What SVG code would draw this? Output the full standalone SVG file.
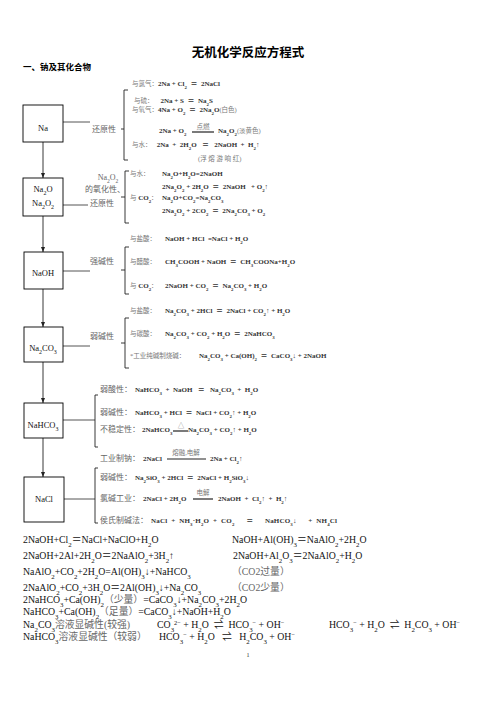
<svg xmlns="http://www.w3.org/2000/svg" width="496" height="702" viewBox="0 0 496 702">
<style>
text{font-family:"Liberation Serif","Noto Sans CJK SC","DejaVu Serif",serif;white-space:pre}
.title{font-family:"Noto Sans CJK SC",sans-serif;font-weight:bold;font-size:12.5px;fill:#000}
.h{font-family:"Noto Sans CJK SC",sans-serif;font-weight:bold;font-size:8.5px;fill:#000}
.bx{font-size:8.5px;fill:#111}
.lab{font-size:8px;fill:#666}
.eq{font-size:7px;font-weight:bold;fill:#333}
.g{font-weight:normal;fill:#777;font-size:6.5px}
.gl{font-weight:normal;fill:#666;font-size:8px}
.bt{font-size:9.8px;fill:#111}
.gb{fill:#666}
.d{font-size:70%;baseline-shift:sub}
.u{font-size:65%;baseline-shift:super}
.box{fill:#fff;stroke:#000;stroke-width:0.9}
.ln{stroke:#222;stroke-width:1.2;fill:none}
.cl{stroke:#555;stroke-width:1}
.br{stroke:#222;stroke-width:0.9;fill:none}
.ar{stroke:#222;stroke-width:0.9;marker-end:url(#ah)}
</style>
<defs>
<marker id="ah" markerWidth="6" markerHeight="6" refX="5" refY="3" orient="auto" markerUnits="userSpaceOnUse"><path d="M0,1 L5,3 L0,5Z" fill="#222"/></marker>
</defs>
<rect width="496" height="702" fill="#fff"/>
<text class="title" x="248" y="57" text-anchor="middle">无机化学反应方程式</text>
<text class="h" x="23" y="70">一、钠及其化合物</text>

<g id="connectors">
<line class="ar" x1="43" y1="142" x2="43" y2="178"/>
<line class="ar" x1="43" y1="216" x2="43" y2="252"/>
<line class="ar" x1="43" y1="289" x2="43" y2="327"/>
<line class="ar" x1="43" y1="362" x2="43" y2="403"/>
<line class="ar" x1="43" y1="438" x2="43" y2="477"/>
<line class="cl" x1="63" y1="122" x2="90" y2="122"/>
<line class="cl" x1="63" y1="205" x2="88" y2="205"/>
<line class="cl" x1="63" y1="271" x2="90" y2="271"/>
<line class="cl" x1="63" y1="346" x2="90" y2="346"/>
<line class="cl" x1="63" y1="420" x2="95" y2="420"/>
<line class="cl" x1="64" y1="499" x2="95" y2="499"/>
</g>

<g id="na">
<rect class="box" x="23" y="105" width="40" height="37"/>
<text class="bx" x="43" y="131" text-anchor="middle">Na</text>
</g>
<g id="na-rx">
<text class="lab" x="92" y="132">还原性</text>
<path class="br" d="M128,90 H124 V160 H128 M124,129 H121"/>
<text class="eq" x="132" y="86"><tspan class="g">与氯气：</tspan>2Na + Cl<tspan class="d">2</tspan>  ＝  2NaCl</text>
<text class="eq" x="134" y="102.5"><tspan class="g">与硫：</tspan>    2Na + S  ＝  Na<tspan class="d">2</tspan>S</text>
<text class="eq" x="132" y="112"><tspan class="g">与氧气：</tspan>4Na + O<tspan class="d">2</tspan>  ＝  2Na<tspan class="d">2</tspan>O<tspan class="g">(白色)</tspan></text>
<text class="eq" x="159" y="133">2Na + O<tspan class="d">2</tspan></text>
<line class="ln" x1="192" y1="132" x2="214" y2="132"/>
<text class="g" x="203" y="129" text-anchor="middle">点燃</text>
<text class="eq" x="218" y="133">Na<tspan class="d">2</tspan>O<tspan class="d">2</tspan><tspan class="g">(淡黄色)</tspan></text>
<text class="eq" x="132" y="147"><tspan class="g">与水：</tspan>   2Na  +  2H<tspan class="d">2</tspan>O   ＝   2NaOH  +  H<tspan class="d">2</tspan>↑</text>
<text class="g" x="198" y="161">(浮 熔 游 响 红)</text>
</g>

<g id="na2o">
<rect class="box" x="23" y="178" width="40" height="38"/>
<text class="bx" x="43" y="192" text-anchor="middle">Na<tspan class="d">2</tspan>O</text>
<text class="bx" x="43" y="206" text-anchor="middle">Na<tspan class="d">2</tspan>O<tspan class="d">2</tspan></text>
</g>
<g id="na2o-rx">
<text class="lab" x="108" y="180" text-anchor="middle">Na<tspan class="d">2</tspan>O<tspan class="d">2</tspan></text>
<text class="lab" x="85" y="192">的氧化性、</text>
<text class="lab" x="90" y="206">还原性</text>
<path class="br" d="M129,171 H125 V223 H129 M125,197 H121"/>
<text class="eq" x="130" y="176"><tspan class="g">与水：</tspan></text>
<text class="eq" x="162" y="176">Na<tspan class="d">2</tspan>O+H<tspan class="d">2</tspan>O=2NaOH</text>
<text class="eq" x="162" y="189">2Na<tspan class="d">2</tspan>O<tspan class="d">2</tspan> + 2H<tspan class="d">2</tspan>O  ＝  2NaOH   + O<tspan class="d">2</tspan>↑</text>
<text class="eq" x="130" y="200"><tspan class="g">与 </tspan>CO<tspan class="d">2</tspan><tspan class="g">：</tspan></text>
<text class="eq" x="162" y="200">Na<tspan class="d">2</tspan>O+CO<tspan class="d">2</tspan>=Na<tspan class="d">2</tspan>CO<tspan class="d">3</tspan></text>
<text class="eq" x="162" y="213">2Na<tspan class="d">2</tspan>O<tspan class="d">2</tspan> + 2CO<tspan class="d">2</tspan>  ＝  2Na<tspan class="d">2</tspan>CO<tspan class="d">3</tspan> + O<tspan class="d">2</tspan></text>
</g>

<g id="naoh">
<rect class="box" x="24" y="252" width="39" height="37"/>
<text class="bx" x="43" y="276" text-anchor="middle">NaOH</text>
</g>
<g id="naoh-rx">
<text class="lab" x="90" y="264">强碱性</text>
<path class="br" d="M129,247 H125 V294 H129 M125,270 H121"/>
<text class="eq" x="130" y="241"><tspan class="g">与盐酸：</tspan></text>
<text class="eq" x="165" y="241">NaOH + HCl  =NaCl + H<tspan class="d">2</tspan>O</text>
<text class="eq" x="130" y="264"><tspan class="g">与醋酸：</tspan></text>
<text class="eq" x="165" y="264">CH<tspan class="d">3</tspan>COOH + NaOH  ＝  CH<tspan class="d">3</tspan>COONa+H<tspan class="d">2</tspan>O</text>
<text class="eq" x="130" y="288"><tspan class="g">与 </tspan>CO<tspan class="d">2</tspan><tspan class="g">：</tspan></text>
<text class="eq" x="165" y="288">2NaOH + CO<tspan class="d">2</tspan>  ＝  Na<tspan class="d">2</tspan>CO<tspan class="d">3</tspan> + H<tspan class="d">2</tspan>O</text>
</g>

<g id="na2co3">
<rect class="box" x="24" y="327" width="39" height="35"/>
<text class="bx" x="43" y="351" text-anchor="middle">Na<tspan class="d">2</tspan>CO<tspan class="d">3</tspan></text>
</g>
<g id="na2co3-rx">
<text class="lab" x="90" y="339">弱碱性</text>
<path class="br" d="M129,318 H125 V368 H129 M125,343 H121"/>
<text class="eq" x="130" y="313"><tspan class="g">与盐酸：</tspan></text>
<text class="eq" x="165" y="313">Na<tspan class="d">2</tspan>CO<tspan class="d">3</tspan> + 2HCl  ＝  2NaCl + CO<tspan class="d">2</tspan>↑ + H<tspan class="d">2</tspan>O</text>
<text class="eq" x="130" y="336"><tspan class="g">与碳酸：</tspan></text>
<text class="eq" x="165" y="336">Na<tspan class="d">2</tspan>CO<tspan class="d">3</tspan> + CO<tspan class="d">2</tspan> + H<tspan class="d">2</tspan>O  ＝  2NaHCO<tspan class="d">3</tspan></text>
<text class="eq" x="130" y="358"><tspan class="g">*工业纯碱制烧碱：</tspan></text>
<text class="eq" x="199" y="358">Na<tspan class="d">2</tspan>CO<tspan class="d">3</tspan> + Ca(OH)<tspan class="d">2</tspan>  ＝  CaCO<tspan class="d">3</tspan>↓ + 2NaOH</text>
</g>

<g id="nahco3">
<rect class="box" x="24" y="403" width="39" height="35"/>
<text class="bx" x="43" y="428" text-anchor="middle">NaHCO<tspan class="d">3</tspan></text>
</g>
<g id="nahco3-rx">
<path class="br" d="M98,395 H95 V447 H98"/>
<text class="eq" x="100" y="392"><tspan class="gl">弱酸性：</tspan></text>
<text class="eq" x="135" y="392">NaHCO<tspan class="d">3</tspan>  +  NaOH   ＝   Na<tspan class="d">2</tspan>CO<tspan class="d">3</tspan>  +  H<tspan class="d">2</tspan>O</text>
<text class="eq" x="100" y="415"><tspan class="gl">弱碱性：</tspan></text>
<text class="eq" x="135" y="415">NaHCO<tspan class="d">3</tspan> + HCl  ＝  NaCl + CO<tspan class="d">2</tspan>↑ + H<tspan class="d">2</tspan>O</text>
<text class="eq" x="100" y="432"><tspan class="gl">不稳定性：</tspan></text>
<text class="eq" x="142" y="432">2NaHCO<tspan class="d">3</tspan></text>
<line class="ln" x1="173" y1="431" x2="188" y2="431"/>
<text class="g" x="181" y="428" text-anchor="middle">△</text>
<text class="eq" x="188" y="432">Na<tspan class="d">2</tspan>CO<tspan class="d">3</tspan> + CO<tspan class="d">2</tspan>↑ + H<tspan class="d">2</tspan>O</text>
</g>

<g id="na-ind">
<text class="eq" x="100" y="461"><tspan class="gl">工业制钠：</tspan></text>
<text class="eq" x="143" y="461">2NaCl</text>
<line class="ln" x1="167" y1="459" x2="206" y2="459"/>
<text class="g" x="186" y="455" text-anchor="middle">熔融,电解</text>
<text class="eq" x="210" y="461">2Na + Cl<tspan class="d">2</tspan>↑</text>
</g>

<g id="nacl">
<rect class="box" x="24" y="477" width="40" height="45"/>
<text class="bx" x="44" y="502" text-anchor="middle">NaCl</text>
</g>
<g id="nacl-rx">
<path class="br" d="M98,468 H95 V523 H98"/>
<text class="eq" x="100" y="480"><tspan class="gl">弱碱性：</tspan></text>
<text class="eq" x="135" y="480">Na<tspan class="d">2</tspan>SiO<tspan class="d">3</tspan> + 2HCl  ＝  2NaCl + H<tspan class="d">2</tspan>SiO<tspan class="d">3</tspan>↓</text>
<text class="eq" x="100" y="501"><tspan class="gl">氯碱工业：</tspan></text>
<text class="eq" x="143" y="501">2NaCl + 2H<tspan class="d">2</tspan>O</text>
<line class="ln" x1="193" y1="499" x2="213" y2="499"/>
<text class="g" x="203" y="495" text-anchor="middle">电解</text>
<text class="eq" x="218" y="501">2NaOH  +  Cl<tspan class="d">2</tspan>↑  +  H<tspan class="d">2</tspan>↑</text>
<text class="eq" x="100" y="523"><tspan class="gl">侯氏制碱法：</tspan></text>
<text class="eq" x="151" y="523" textLength="186" lengthAdjust="spacing">NaCl  +  NH<tspan class="d">3</tspan>·H<tspan class="d">2</tspan>O  +  CO<tspan class="d">2</tspan>      ＝      NaHCO<tspan class="d">3</tspan>↓      +  NH<tspan class="d">4</tspan>Cl</text>
</g>

<g id="notes">
<text class="bt" x="23" y="543">2NaOH+Cl<tspan class="d">2</tspan>＝NaCl+NaClO+H<tspan class="d">2</tspan>O</text>
<text class="bt" x="232" y="543">NaOH+Al(OH)<tspan class="d">3</tspan>＝NaAlO<tspan class="d">2</tspan>+2H<tspan class="d">2</tspan>O</text>
<text class="bt" x="23" y="559">2NaOH+2Al+2H<tspan class="d">2</tspan>O＝2NaAlO<tspan class="d">2</tspan>+3H<tspan class="d">2</tspan>↑</text>
<text class="bt" x="233" y="559">2NaOH+Al<tspan class="d">2</tspan>O<tspan class="d">3</tspan>＝2NaAlO<tspan class="d">2</tspan>+H<tspan class="d">2</tspan>O</text>
<text class="bt" x="23" y="575">NaAlO<tspan class="d">2</tspan>+CO<tspan class="d">2</tspan>+2H<tspan class="d">2</tspan>O=Al(OH)<tspan class="d">3</tspan>↓+NaHCO<tspan class="d">3</tspan></text>
<text class="bt gb" x="232" y="575">（CO2过量）</text>
<text class="bt" x="23" y="591">2NaAlO<tspan class="d">2</tspan>+CO<tspan class="d">2</tspan>+3H<tspan class="d">2</tspan>O＝2Al(OH)<tspan class="d">3</tspan>↓+Na<tspan class="d">2</tspan>CO<tspan class="d">3</tspan></text>
<text class="bt gb" x="232" y="591">（CO2少量）</text>
<text class="bt" x="23" y="603">2NaHCO<tspan class="d">3</tspan>+Ca(OH)<tspan class="d">2</tspan><tspan class="gb">（少量）</tspan>=CaCO<tspan class="d">3</tspan>↓+Na<tspan class="d">2</tspan>CO<tspan class="d">3</tspan>+2H<tspan class="d">2</tspan>O</text>
<text class="bt" x="23" y="615">NaHCO<tspan class="d">3</tspan>+Ca(OH)<tspan class="d">2</tspan><tspan class="gb">（足量）</tspan>=CaCO<tspan class="d">3</tspan>↓+NaOH+H<tspan class="d">2</tspan>O</text>
<text class="bt" x="23" y="628">Na<tspan class="d">2</tspan>CO<tspan class="d">3</tspan><tspan class="gb">溶液显碱性(较强)</tspan></text>
<text class="bt" x="157" y="628">CO<tspan class="d">3</tspan><tspan class="u">2−</tspan> + H<tspan class="d">2</tspan>O  ⇌  HCO<tspan class="d">3</tspan><tspan class="u">−</tspan> + OH<tspan class="u">−</tspan></text>
<text class="bt" x="329" y="628">HCO<tspan class="d">3</tspan><tspan class="u">−</tspan> + H<tspan class="d">2</tspan>O  ⇌  H<tspan class="d">2</tspan>CO<tspan class="d">3</tspan> + OH<tspan class="u">−</tspan></text>
<text class="bt" x="23" y="640">NaHCO<tspan class="d">3</tspan><tspan class="gb">溶液显碱性（较弱）</tspan></text>
<text class="bt" x="159" y="640">HCO<tspan class="d">3</tspan><tspan class="u">−</tspan> + H<tspan class="d">2</tspan>O   ⇌   H<tspan class="d">2</tspan>CO<tspan class="d">3</tspan> + OH<tspan class="u">−</tspan></text>
<text x="248" y="657" text-anchor="middle" style="font-size:6px;fill:#333">1</text>
</g>
</svg>
